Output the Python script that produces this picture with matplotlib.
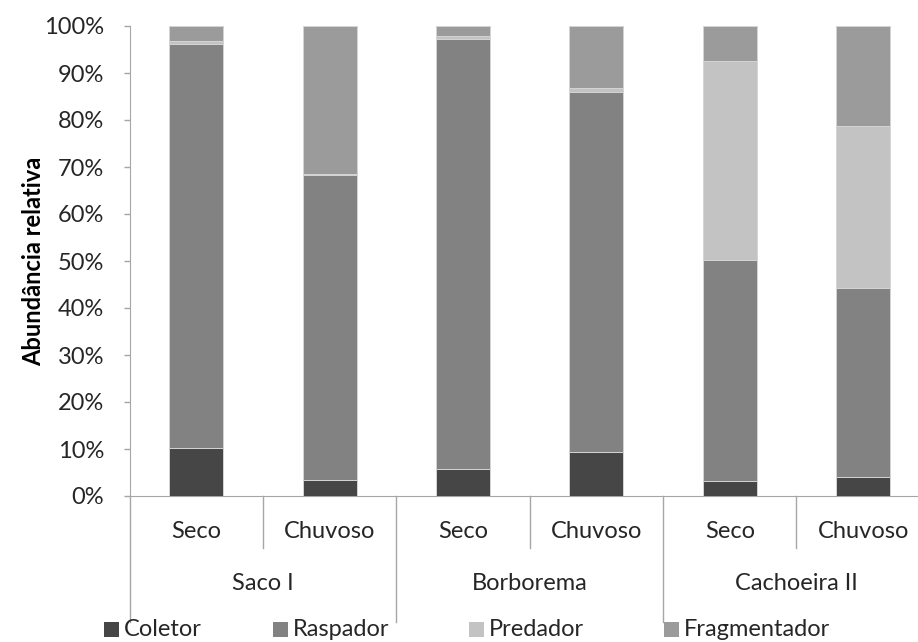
import matplotlib
matplotlib.use("Agg")
import matplotlib.pyplot as plt
from matplotlib.patches import Rectangle
from matplotlib.ticker import PercentFormatter

plt.rcParams['font.family'] = ['Lato', 'DejaVu Sans']

# Data (percent of individuals per trophic group)
seasons = ["Seco", "Chuvoso", "Seco", "Chuvoso", "Seco", "Chuvoso"]
sites = ["Saco I", "Borborema", "Cachoeira II"]
coletor = [10.3, 3.4, 5.7, 9.4, 3.2, 4.0]
raspador = [85.9, 64.8, 91.5, 76.6, 47.0, 40.3]
predador = [0.6, 0.4, 0.6, 0.9, 42.4, 34.4]
fragmentador = [3.2, 31.4, 2.2, 13.1, 7.4, 21.3]

series = [
    ("Coletor", coletor, "#464646"),
    ("Raspador", raspador, "#828282"),
    ("Predador", predador, "#c3c3c3"),
    ("Fragmentador", fragmentador, "#9b9b9b"),
]

FS = 17
W, H = 918, 642
fig = plt.figure(figsize=(W / 100, H / 100), dpi=100)
ax = fig.add_axes([129.8 / W, 146 / H, 800 / W, 470 / H])

x = [i + 0.5 for i in range(len(seasons))]
bottom = [0.0] * len(seasons)
for name, vals, col in series:
    ax.bar(x, vals, width=0.405, bottom=bottom, color=col,
           edgecolor="#d4d4d4", linewidth=0.7, zorder=3)
    bottom = [b + v for b, v in zip(bottom, vals)]

ax.set_xlim(0, len(seasons))
ax.set_ylim(0, 100)
ax.set_yticks(range(0, 101, 10))
ax.yaxis.set_major_formatter(PercentFormatter(decimals=0))
ax.tick_params(axis='y', direction='out', length=4.5, width=1, color='#a6a6a6',
               labelsize=FS, labelcolor='#262626', pad=14)
ax.set_xticks([])

axis_col = '#a6a6a6'
for side in ('top', 'right'):
    ax.spines[side].set_visible(False)
ax.spines['left'].set_color(axis_col)
ax.spines['bottom'].set_color(axis_col)

ax.set_ylabel("Abundância relativa", fontsize=FS, fontweight='bold',
              color='#000000', va='center')
ax.yaxis.set_label_coords((34 - 129.8) / 800, 0.5)

# Two-level category axis
tr = ax.get_xaxis_transform()
px = 1 / 470
for k in range(len(sites)):
    ax.plot([2 * k + 1, 2 * k + 1], [0, -52 * px], color=axis_col, lw=1,
            transform=tr, clip_on=False)
for k in range(len(sites) + 1):
    ax.plot([2 * k, 2 * k], [0, -126 * px], color=axis_col, lw=1,
            transform=tr, clip_on=False)

for xi, s in zip(x, seasons):
    ax.text(xi, -36 * px, s, transform=tr, ha='center', va='center',
            fontsize=FS, color='#262626')
for k, s in enumerate(sites):
    ax.text(2 * k + 1, -87 * px, s, transform=tr, ha='center', va='center',
            fontsize=FS, color='#262626')

# Legend row
legend_x = [104, 273, 469, 664]
ly = 629
for (name, vals, col), lx in zip(series, legend_x):
    fig.patches.append(Rectangle((lx / W, (H - ly - 7.5) / H), 15 / W, 15 / H,
                                 transform=fig.transFigure, facecolor=col,
                                 edgecolor='none'))
    fig.text((lx + 20) / W, (H - ly) / H, name, ha='left', va='center',
             fontsize=FS, color='#262626')

fig.savefig("out.png", dpi=100)
